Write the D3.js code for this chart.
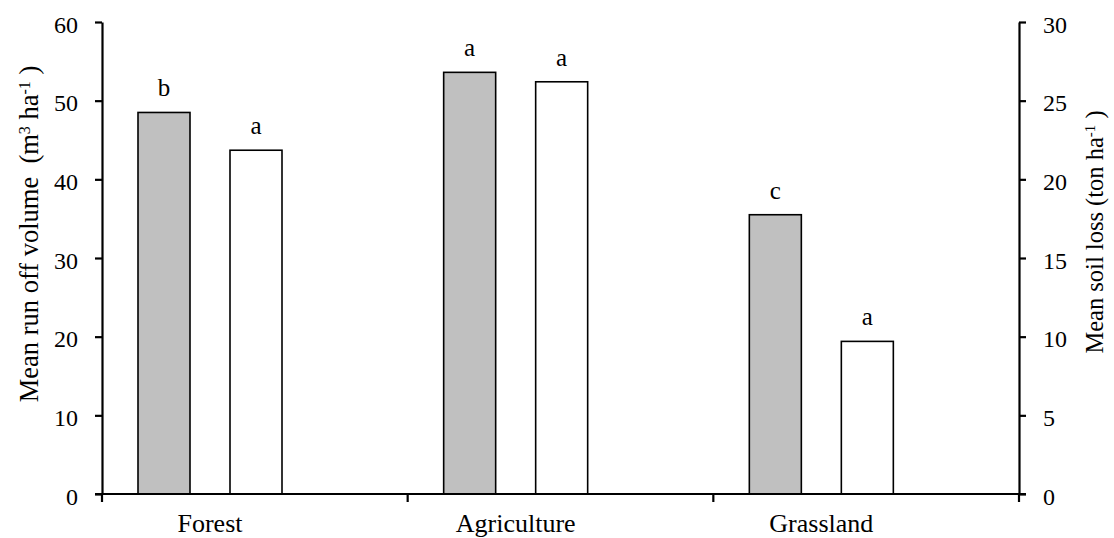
<!DOCTYPE html>
<html>
<head>
<meta charset="utf-8">
<script src="https://cdn.jsdelivr.net/npm/d3@7"></script>
<style>
  html, body { margin: 0; padding: 0; background: #fff; }
  svg { display: block; }
  text { font-family: "Liberation Serif", "Times New Roman", serif; fill: #000; }
</style>
</head>
<body>
<svg id="chart" width="1114" height="538"></svg>
<script>
// ---- data ----
const categories = ["Forest", "Agriculture", "Grassland"];
const runoff = [48.5, 53.6, 35.5];          // m3 ha-1, left axis (grey bars)
const soilLoss = [21.85, 26.2, 9.7];        // ton ha-1, right axis (white bars)
const runoffLetters = ["b", "a", "c"];
const soilLetters = ["a", "a", "a"];
const leftTicks = [0, 10, 20, 30, 40, 50, 60];
const rightTicks = [0, 5, 10, 15, 20, 25, 30];

(function () {
// ---- layout ----
const svg = d3.select("#chart");
const pl = 102, pr = 1019, pt = 22, pb = 494;

const x = d3.scaleBand().domain(categories).range([pl, pr]).padding(0);
const sub = d3.scaleBand().domain(["runoff", "soil"]).range([36, 180]).paddingInner(40 / 92).paddingOuter(0);
const yL = d3.scaleLinear().domain([0, 60]).range([pb, pt]);
const yR = d3.scaleLinear().domain([0, 30]).range([pb, pt]);

// bars
const g = svg.append("g");
categories.forEach((c, i) => {
  const x0 = x(c);
  g.append("rect")
    .attr("x", x0 + sub("runoff"))
    .attr("y", yL(runoff[i]))
    .attr("width", sub.bandwidth())
    .attr("height", pb - yL(runoff[i]))
    .attr("fill", "#c0c0c0")
    .attr("stroke", "#000")
    .attr("stroke-width", 1.6);
  g.append("rect")
    .attr("x", x0 + sub("soil"))
    .attr("y", yR(soilLoss[i]))
    .attr("width", sub.bandwidth())
    .attr("height", pb - yR(soilLoss[i]))
    .attr("fill", "#fff")
    .attr("stroke", "#000")
    .attr("stroke-width", 1.6);
  g.append("text")
    .attr("x", x0 + sub("runoff") + sub.bandwidth() / 2)
    .attr("y", yL(runoff[i]) - 16)
    .attr("text-anchor", "middle")
    .attr("font-size", 25)
    .text(runoffLetters[i]);
  g.append("text")
    .attr("x", x0 + sub("soil") + sub.bandwidth() / 2)
    .attr("y", yR(soilLoss[i]) - 16)
    .attr("text-anchor", "middle")
    .attr("font-size", 25)
    .text(soilLetters[i]);
});

// axes
const axisStyle = sel => {
  sel.attr("font-family", null);
  sel.select(".domain").attr("stroke", "#000").attr("stroke-width", 2.2);
  sel.selectAll(".tick line").attr("stroke", "#000").attr("stroke-width", 2.2);
  sel.selectAll(".tick text").attr("fill", "#000");
};

const gL = svg.append("g").attr("transform", `translate(${pl},0)`)
  .call(d3.axisLeft(yL).tickValues(leftTicks).tickSizeInner(7).tickSizeOuter(0).tickPadding(17));
axisStyle(gL);
gL.selectAll(".tick text").attr("font-size", 24).attr("dy", "0.42em");

const gR = svg.append("g").attr("transform", `translate(${pr},0)`)
  .call(d3.axisRight(yR).tickValues(rightTicks).tickSizeInner(7).tickSizeOuter(0).tickPadding(17));
axisStyle(gR);
gR.selectAll(".tick text").attr("font-size", 24).attr("dy", "0.42em");

// bottom axis with ticks at category boundaries
const bounds = categories.map(c => x(c)).concat([pr]);
const gB = svg.append("g");
gB.append("line").attr("x1", pl - 7).attr("x2", pr + 7).attr("y1", pb).attr("y2", pb)
  .attr("stroke", "#000").attr("stroke-width", 2.2);
gB.selectAll("line.tk").data(bounds).join("line").attr("class", "tk")
  .attr("x1", d => d).attr("x2", d => d).attr("y1", pb).attr("y2", pb + 8)
  .attr("stroke", "#000").attr("stroke-width", 2.2);
gB.selectAll("text").data(categories).join("text")
  .attr("x", d => x(d) + (sub("runoff") + sub("soil") + sub.bandwidth()) / 2)
  .attr("y", 532)
  .attr("text-anchor", "middle")
  .attr("font-size", 26)
  .text(d => d);

// axis titles
const tL = svg.append("text")
  .attr("transform", "translate(38,234) rotate(-90)")
  .attr("text-anchor", "middle")
  .attr("font-size", 26.5);
tL.append("tspan").text("Mean run off volume\u00a0\u00a0(m");
tL.append("tspan").attr("baseline-shift", "super").attr("font-size", 16).text("3");
tL.append("tspan").text("\u00a0ha");
tL.append("tspan").attr("baseline-shift", "super").attr("font-size", 16).text("-1");
tL.append("tspan").text("\u00a0)");

const tR = svg.append("text")
  .attr("transform", "translate(1103,232) rotate(-90)")
  .attr("text-anchor", "middle")
  .attr("font-size", 24.5);
tR.append("tspan").text("Mean soil loss (ton ha");
tR.append("tspan").attr("baseline-shift", "super").attr("font-size", 15).text("-1");
tR.append("tspan").text("\u00a0)");
})();
</script>
</body>
</html>
